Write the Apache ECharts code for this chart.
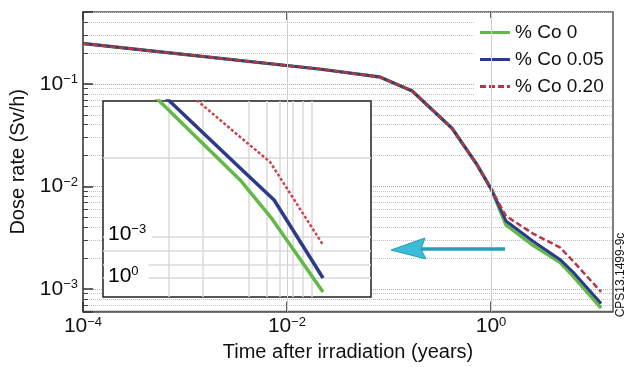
<!DOCTYPE html>
<html>
<head>
<meta charset="utf-8">
<script src="https://cdn.jsdelivr.net/npm/echarts@6/dist/echarts.min.js"></script>
<style>
  html, body { margin: 0; padding: 0; background: #fff; }
  #chart { width: 625px; height: 367px; }
</style>
</head>
<body>
<div id="chart"></div>
<script>
// ---- main chart data (time in years, dose rate in Sv/h) ----
const timeYears = [0.0001, 0.0211, 0.0817, 0.168, 0.415, 0.729, 1.02, 1.40, 2.6, 4.74, 6.4, 12.0];
const doseCo0   = [0.2477, 0.1394, 0.1167, 0.0857, 0.0369, 0.0163, 0.00916, 0.00422, 0.00265, 0.00182, 0.00133, 0.00065];
const doseCo005 = [0.2477, 0.1394, 0.1167, 0.0857, 0.0369, 0.0163, 0.00916, 0.0046, 0.0029, 0.00194, 0.001455, 0.00072];
const doseCo020 = [0.2477, 0.1394, 0.1167, 0.0857, 0.0369, 0.0163, 0.00916, 0.00515, 0.00345, 0.00254, 0.00186, 0.000935];
const seriesNames = ['% Co 0', '% Co 0.05', '% Co 0.20'];
const xTickValues = [0.0001, 0.01, 1];
const mainVLines = [0.01, 1];

// ---- inset (zoomed view, arbitrary log units) ----
const insetGreenX = [0.773, 2.80, 4.55, 9.85];
const insetGreenY = [43.6, 9.10, 4.36, 1.10];
const insetBlueX  = [0.90, 2.80, 4.69, 9.85];
const insetBlueY  = [43.6, 11.4, 6.24, 1.43];
const insetRedX   = [1.37, 2.80, 4.41, 9.85];
const insetRedY   = [43.6, 20.5, 12.8, 2.67];
const insetVLines = [0.95, 1.6, 3.2, 4.2, 5.1, 6.2, 7.2, 8.3];
const insetHLines = [13.8, 3.1, 2.4, 1.85, 1.43];
const insetLabels = ['−3', '0'];

const FONT = '"Liberation Sans", Arial, Helvetica, sans-serif';
const zip = (xs, ys) => xs.map((x, i) => [x, ys[i]]);

function expLabel(v, evenOnly) {
  const e = Math.log10(v);
  const r = Math.round(e);
  if (Math.abs(e - r) > 1e-6) return '';
  if (evenOnly && r % 2 !== 0) return '';
  const s = r < 0 ? '−' + (-r) : String(r);
  return '{b|10}{s|' + s + '}';
}
const rich = {
  b: { fontSize: 21, fontFamily: FONT, color: '#111', lineHeight: 22 },
  s: { fontSize: 13, fontFamily: FONT, color: '#111', lineHeight: 18, verticalAlign: 'top' }
};

const GREEN = '#62b947', BLUE = '#2c3a8a', RED = '#b53642';
const ICON_SOLID = 'path://M0,0H30V3H0Z';
const ICON_DASH = 'path://M0,0H6V3H0Z M9,0H15V3H9Z M18,0H24V3H18Z M27,0H30V3H27Z';

const chart = echarts.init(document.getElementById('chart'), null, { renderer: 'canvas' });
chart.setOption({
  animation: false,
  backgroundColor: '#fff',
  grid: [
    { left: 83, right: 12, top: 12, bottom: 51, show: true, borderColor: '#555', borderWidth: 1.5 },
    { left: 103, top: 101, width: 268, height: 196, show: true, backgroundColor: '#fff',
      borderColor: '#222', borderWidth: 1.5, z: 3 }
  ],
  legend: {
    data: [
      { name: seriesNames[0], icon: ICON_SOLID },
      { name: seriesNames[1], icon: ICON_SOLID },
      { name: seriesNames[2], icon: ICON_DASH }
    ],
    orient: 'vertical', left: 474, top: 18,
    backgroundColor: '#fff', padding: [5, 8, 4, 6],
    itemWidth: 30, itemHeight: 3, itemGap: 8,
    textStyle: { fontSize: 19, color: '#111', fontFamily: FONT }
  },
  xAxis: [
    { type: 'log', logBase: 10, gridIndex: 0, min: 0.0001, max: 15.7, position: 'bottom',
      axisLine: { show: true, lineStyle: { color: '#555', width: 1.5 } },
      axisTick: { show: true, inside: true, length: 10, customValues: xTickValues, lineStyle: { color: '#333', width: 1.5 } },
      axisLabel: { margin: 4, customValues: xTickValues, formatter: v => expLabel(v, true), rich: rich },
      splitLine: { show: false },
      name: 'Time after irradiation (years)', nameLocation: 'middle', nameGap: 27,
      nameTextStyle: { fontSize: 20, color: '#111', fontFamily: FONT } },
    { type: 'log', logBase: 10, gridIndex: 0, min: 0.0001, max: 15.7, position: 'top',
      axisLine: { show: false },
      axisTick: { show: true, inside: true, length: 8, customValues: xTickValues, lineStyle: { color: '#333', width: 1.5 } },
      axisLabel: { show: false }, splitLine: { show: false } },
    { type: 'log', logBase: 10, gridIndex: 1, min: 0.35, max: 20.4, z: 3,
      axisLine: { show: false }, axisTick: { show: false }, axisLabel: { show: false }, splitLine: { show: false } }
  ],
  yAxis: [
    { type: 'log', logBase: 10, gridIndex: 0, min: 0.000601, max: 0.503,
      axisLine: { show: true, lineStyle: { color: '#555', width: 1.5 } },
      axisTick: { show: true, inside: true, length: 10, lineStyle: { color: '#333', width: 1.5 } },
      minorTick: { show: true, splitNumber: 9, length: 5, lineStyle: { color: '#444', width: 1 } },
      axisLabel: { margin: 5, formatter: v => expLabel(v, false), rich: rich },
      splitLine: { show: true, lineStyle: { color: '#aaa', type: 'dotted', width: 1 } },
      minorSplitLine: { show: true, lineStyle: { color: '#c2c2c2', type: 'dotted', width: 1 } },
      name: 'Dose rate (Sv/h)', nameLocation: 'middle', nameGap: 52, nameRotate: 90,
      nameTextStyle: { fontSize: 20, color: '#111', fontFamily: FONT } },
    { type: 'log', logBase: 10, gridIndex: 1, min: 1, max: 40.4, z: 3,
      axisLine: { show: false }, axisTick: { show: false }, axisLabel: { show: false }, splitLine: { show: false } }
  ],
  series: [
    { name: 'main-grid', type: 'line', xAxisIndex: 0, yAxisIndex: 0, data: [], z: 1, symbol: 'none',
      markLine: { silent: true, symbol: 'none', label: { show: false }, animation: false,
        lineStyle: { color: '#cfcfcf', width: 1, type: 'solid' },
        data: mainVLines.map(v => ({ xAxis: v })) } },
    { name: seriesNames[0], type: 'line', xAxisIndex: 0, yAxisIndex: 0, symbol: 'none', z: 2,
      data: zip(timeYears, doseCo0), itemStyle: { color: GREEN }, lineStyle: { color: GREEN, width: 3.5 } },
    { name: seriesNames[1], type: 'line', xAxisIndex: 0, yAxisIndex: 0, symbol: 'none', z: 2,
      data: zip(timeYears, doseCo005), itemStyle: { color: BLUE }, lineStyle: { color: BLUE, width: 3 } },
    { name: seriesNames[2], type: 'line', xAxisIndex: 0, yAxisIndex: 0, symbol: 'none', z: 2,
      data: zip(timeYears, doseCo020), itemStyle: { color: RED }, lineStyle: { color: RED, width: 2.5, type: [6, 3] } },
    { name: 'inset-grid', type: 'line', xAxisIndex: 2, yAxisIndex: 1, data: [], z: 4, symbol: 'none',
      markLine: { silent: true, symbol: 'none', label: { show: false }, animation: false,
        lineStyle: { color: '#dadada', width: 1.5, type: 'solid' },
        data: insetVLines.map(v => ({ xAxis: v })).concat(insetHLines.map(v => ({ yAxis: v }))) } },
    { name: 'inset-0', type: 'line', xAxisIndex: 2, yAxisIndex: 1, symbol: 'none', z: 5,
      data: zip(insetGreenX, insetGreenY), lineStyle: { color: GREEN, width: 3.5 } },
    { name: 'inset-0.05', type: 'line', xAxisIndex: 2, yAxisIndex: 1, symbol: 'none', z: 5,
      data: zip(insetBlueX, insetBlueY), lineStyle: { color: BLUE, width: 3.5 } },
    { name: 'inset-0.20', type: 'line', xAxisIndex: 2, yAxisIndex: 1, symbol: 'none', z: 5,
      data: zip(insetRedX, insetRedY), lineStyle: { color: '#c8464f', width: 2.5, type: [3, 2] } }
  ],
  graphic: [
    { type: 'text', x: 104, y: 220, z: 100,
      style: { text: '{b|10}{s|' + insetLabels[0] + '}', rich: rich, backgroundColor: '#fff', padding: [3, 6, 3, 4] } },
    { type: 'text', x: 104, y: 262, z: 100,
      style: { text: '{b|10}{s|' + insetLabels[1] + '}', rich: rich, backgroundColor: '#fff', padding: [3, 10, 3, 4] } },
    { type: 'line', z: 100, shape: { x1: 420, y1: 249, x2: 505, y2: 249 },
      style: { stroke: '#2a9cb6', lineWidth: 3.5 } },
    { type: 'polygon', z: 101, shape: { points: [[391, 250], [425, 238], [421, 249], [426, 259]] },
      style: { fill: '#3bbcd8', stroke: '#2a9ab6', lineWidth: 1 } },
    { type: 'text', x: 621, y: 275, rotation: Math.PI / 2, z: 100,
      style: { text: 'CPS13.1499-9c', fontSize: 12, fontFamily: FONT, fill: '#111', align: 'center', verticalAlign: 'middle' } }
  ]
});
</script>
</body>
</html>
